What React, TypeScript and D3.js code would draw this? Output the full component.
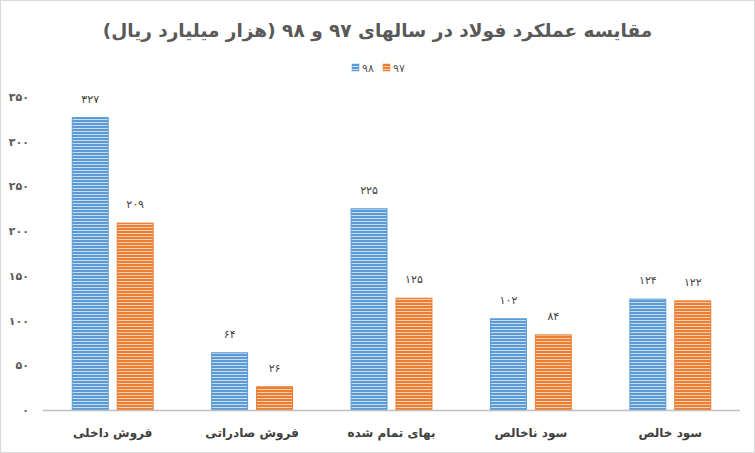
import { useEffect, useRef } from 'react';
import * as d3 from 'd3';

const categories = ['فروش داخلی', 'فروش صادراتی', 'بهای تمام شده', 'سود ناخالص', 'سود خالص'];
const series = ['۹۸', '۹۷'];
const values98 = [327, 64, 225, 102, 124];
const values97 = [209, 26, 125, 84, 122];
const yTicks = [0, 50, 100, 150, 200, 250, 300, 350];

const title = 'مقایسه عملکرد فولاد در سالهای ۹۷ و ۹۸ (هزار میلیارد ریال)';

// persian digits for labels
const fa = (n: number) => String(n).replace(/\d/g, (d) => '۰۱۲۳۴۵۶۷۸۹'[+d]);

export default function App() {
  const ref = useRef<SVGSVGElement>(null);

  useEffect(() => {
    if (!ref.current) return;
    const svg = d3.select(ref.current);
    svg.selectAll('*').remove();

    const width = 755;
    const height = 453;
    const font = '"DejaVu Sans", sans-serif';
    const colors = ['#5b9bd5', '#ed7d31'];
    const light = ['#c9dcf1', '#f8cfb3'];

    svg.attr('width', width).attr('height', height);

    // stripe patterns
    const defs = svg.append('defs');
    colors.forEach((c, i) => {
      const p = defs
        .append('pattern')
        .attr('id', 'stripe' + i)
        .attr('patternUnits', 'userSpaceOnUse')
        .attr('width', 6)
        .attr('height', 3);
      p.append('rect').attr('width', 6).attr('height', 3).attr('fill', light[i]);
      p.append('rect').attr('width', 6).attr('height', 2).attr('fill', c);
    });

    svg
      .append('rect')
      .attr('x', 0.5)
      .attr('y', 0.5)
      .attr('width', width - 1)
      .attr('height', height - 1)
      .attr('fill', '#fff')
      .attr('stroke', '#d9d9d9');

    const x0 = d3
      .scaleBand()
      .domain(categories)
      .range([43, 740])
      .paddingInner(0.42)
      .paddingOuter(0.21);

    const x1 = d3
      .scaleBand()
      .domain(series)
      .range([0, x0.bandwidth()])
      .paddingInner(0.2);

    const y = d3.scaleLinear().domain([0, 350]).range([410, 97]);

    // title
    svg
      .append('text')
      .attr('x', width / 2)
      .attr('y', 37)
      .attr('text-anchor', 'middle')
      .attr('font-family', font)
      .attr('font-weight', 'bold')
      .attr('font-size', 18.5)
      .attr('fill', '#595959')
      .text(title);

    // legend
    const legend = svg.append('g').attr('transform', 'translate(352,64)');
    series.forEach((s, i) => {
      const g = legend.append('g').attr('transform', `translate(${i * 31},0)`);
      g.append('rect')
        .attr('width', 7)
        .attr('height', 7)
        .attr('fill', `url(#stripe${i})`)
        .attr('stroke', colors[i])
        .attr('stroke-width', 0.5);
      g.append('text')
        .attr('x', 10)
        .attr('y', 7.5)
        .attr('font-family', font)
        .attr('font-size', 11)
        .attr('fill', '#595959')
        .text(s);
    });

    // y tick labels
    svg
      .append('g')
      .selectAll('text')
      .data(yTicks)
      .enter()
      .append('text')
      .attr('x', 29)
      .attr('y', (d) => y(d) + 4)
      .attr('text-anchor', 'end')
      .attr('font-family', font)
      .attr('font-weight', 'bold')
      .attr('font-size', 11)
      .attr('fill', '#595959')
      .text((d) => fa(d));

    const rows = categories.map((c, i) => ({ c, vals: [values98[i], values97[i]] }));

    const groups = svg
      .append('g')
      .selectAll('g')
      .data(rows)
      .enter()
      .append('g')
      .attr('transform', (d) => `translate(${x0(d.c)},0)`);

    groups
      .selectAll('rect')
      .data((d) => d.vals.map((v, i) => ({ s: series[i], v, i })))
      .enter()
      .append('rect')
      .attr('x', (d) => x1(d.s)!)
      .attr('y', (d) => y(d.v))
      .attr('width', x1.bandwidth())
      .attr('height', (d) => y(0) - y(d.v))
      .attr('fill', (d) => `url(#stripe${d.i})`)
      .attr('stroke', (d) => colors[d.i])
      .attr('stroke-width', 1);

    groups
      .selectAll('text')
      .data((d) => d.vals.map((v, i) => ({ s: series[i], v })))
      .enter()
      .append('text')
      .attr('x', (d) => x1(d.s)! + x1.bandwidth() / 2)
      .attr('y', (d) => y(d.v) - 15)
      .attr('text-anchor', 'middle')
      .attr('font-family', font)
      .attr('font-size', 11)
      .attr('fill', '#404040')
      .text((d) => fa(d.v));

    // baseline
    svg
      .append('line')
      .attr('x1', 43)
      .attr('x2', 740)
      .attr('y1', y(0) + 0.5)
      .attr('y2', y(0) + 0.5)
      .attr('stroke', '#bfbfbf')
      .attr('stroke-width', 1.5);

    // category labels
    svg
      .append('g')
      .selectAll('text')
      .data(categories)
      .enter()
      .append('text')
      .attr('x', (d) => x0(d)! + x0.bandwidth() / 2)
      .attr('y', 437)
      .attr('text-anchor', 'middle')
      .attr('font-family', font)
      .attr('font-weight', 'bold')
      .attr('font-size', 12)
      .attr('fill', '#404040')
      .text((d) => d);
  }, []);

  return (
    <div style={{ position: 'fixed', left: 0, top: 0 }}>
      <svg ref={ref} style={{ display: 'block' }} />
    </div>
  );
}
